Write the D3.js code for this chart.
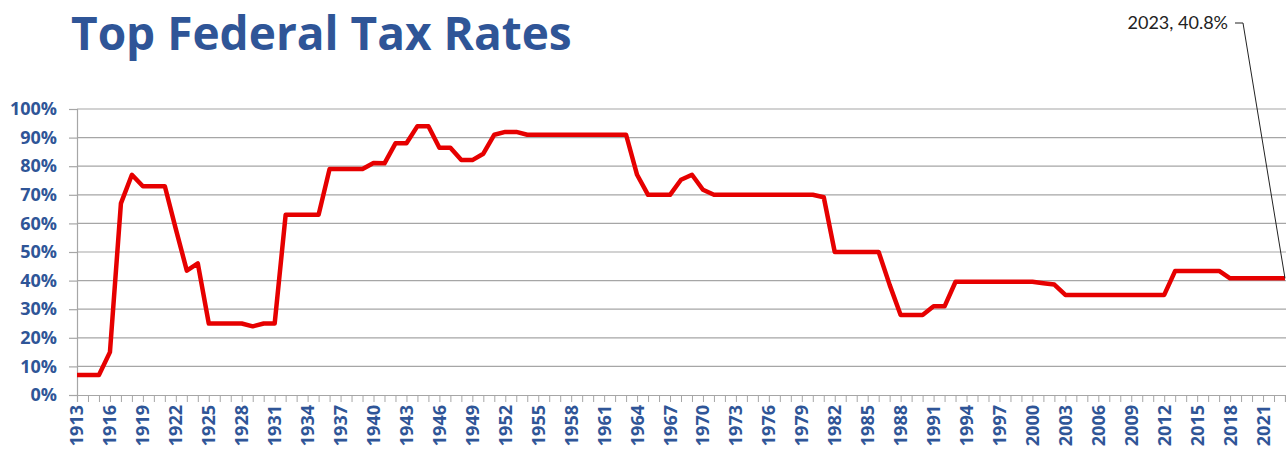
<!DOCTYPE html>
<html>
<head>
<meta charset="utf-8">
<script src="https://cdn.jsdelivr.net/npm/d3@7/dist/d3.min.js"></script>
<style>
  html, body { margin: 0; padding: 0; background: #fff; }
  svg { display: block; }
</style>
</head>
<body>
<svg id="chart" width="1286" height="452"></svg>
<script>
// ---- data ----
const years = d3.range(1913, 2024);
const rates = [
  7, 7, 7, 15, 67, 77, 73, 73, 73, 58,            // 1913-1922
  43.5, 46, 25, 25, 25, 25, 24, 25, 25, 63,       // 1923-1932
  63, 63, 63, 79, 79, 79, 79, 81.1, 81, 88,       // 1933-1942
  88, 94, 94, 86.45, 86.45, 82.13, 82.13, 84.36, 91, 92, // 1943-1952
  92, 91, 91, 91, 91, 91, 91, 91, 91, 91,         // 1953-1962
  91, 77, 70, 70, 70, 75.25, 77, 71.75, 70, 70,   // 1963-1972
  70, 70, 70, 70, 70, 70, 70, 70, 69.13, 50,      // 1973-1982
  50, 50, 50, 50, 38.5, 28, 28, 28, 31, 31,       // 1983-1992
  39.6, 39.6, 39.6, 39.6, 39.6, 39.6, 39.6, 39.6, 39.1, 38.6, // 1993-2002
  35, 35, 35, 35, 35, 35, 35, 35, 35, 35,         // 2003-2012
  43.4, 43.4, 43.4, 43.4, 43.4, 40.8, 40.8, 40.8, 40.8, 40.8, // 2013-2022
  40.8                                            // 2023
];
const yTicks = [0, 10, 20, 30, 40, 50, 60, 70, 80, 90, 100];
const xLabelYears = d3.range(1913, 2024, 3);
const titleText = "Top Federal Tax Rates";
const annotationText = "2023, 40.8%";

// ---- layout ----
const svg = d3.select("#chart");
const plotLeft = 77, plotRight = 1285, plotTop = 109, plotBottom = 395;
const blue = "#2F5597";
const x = d3.scaleLinear().domain([1913, 2023]).range([plotLeft, plotRight]);
const y = d3.scaleLinear().domain([0, 100]).range([plotBottom, plotTop]);

// title
svg.append("text")
  .attr("x", 71).attr("y", 50)
  .attr("font-family", "'Open Sans', sans-serif")
  .attr("font-weight", 700)
  .attr("font-size", 46)
  .attr("fill", blue)
  .text(titleText);

// gridlines
svg.append("g").selectAll("line")
  .data(yTicks.filter(d => d > 0))
  .join("line")
  .attr("x1", plotLeft).attr("x2", 1286)
  .attr("y1", d => y(d)).attr("y2", d => y(d))
  .attr("stroke", "#A6A6A6").attr("stroke-width", 1.2);

// y axis
const yAxis = d3.axisLeft(y).tickValues(yTicks).tickSize(8).tickPadding(12)
  .tickFormat(d => d + "%");
const gy = svg.append("g").attr("transform", `translate(${plotLeft},0)`).call(yAxis);
gy.select(".domain").attr("stroke", "#A6A6A6").attr("stroke-width", 1.2);
gy.selectAll(".tick line").attr("stroke", "#A6A6A6").attr("stroke-width", 1.2);
gy.selectAll(".tick text")
  .attr("font-family", "'Open Sans', sans-serif")
  .attr("font-weight", 700).attr("font-size", 18)
  .attr("fill", blue);

// x axis
const xAxis = d3.axisBottom(x).tickValues(years).tickSize(7).tickFormat("");
const gx = svg.append("g").attr("transform", `translate(0,${plotBottom})`).call(xAxis);
gx.select(".domain").attr("stroke", "#A6A6A6").attr("stroke-width", 1.2);
gx.selectAll(".tick line").attr("stroke", "#A6A6A6").attr("stroke-width", 1);

svg.append("g").selectAll("text")
  .data(xLabelYears)
  .join("text")
  .attr("transform", d => `translate(${x(d)},${plotBottom + 10}) rotate(-90)`)
  .attr("text-anchor", "end")
  .attr("dy", "0.36em")
  .attr("font-family", "'Open Sans', sans-serif")
  .attr("font-weight", 700).attr("font-size", 18)
  .attr("fill", blue)
  .text(d => d);

// line
const line = d3.line().x((d, i) => x(years[i])).y(d => y(d));
svg.append("path")
  .datum(rates)
  .attr("d", line)
  .attr("fill", "none")
  .attr("stroke", "#E60000")
  .attr("stroke-width", 4.5)
  .attr("stroke-linejoin", "round");

// annotation
const lastYear = years[years.length - 1], lastV = rates[rates.length - 1];
svg.append("text")
  .attr("x", 1228).attr("y", 29)
  .attr("text-anchor", "end")
  .attr("font-family", "Lato, sans-serif")
  .attr("font-size", 18)
  .attr("fill", "#222")
  .text(annotationText);
svg.append("path")
  .attr("d", `M1235,23 L1243,23 L${x(lastYear)},${y(lastV)}`)
  .attr("fill", "none")
  .attr("stroke", "#222")
  .attr("stroke-width", 1);
</script>
</body>
</html>
